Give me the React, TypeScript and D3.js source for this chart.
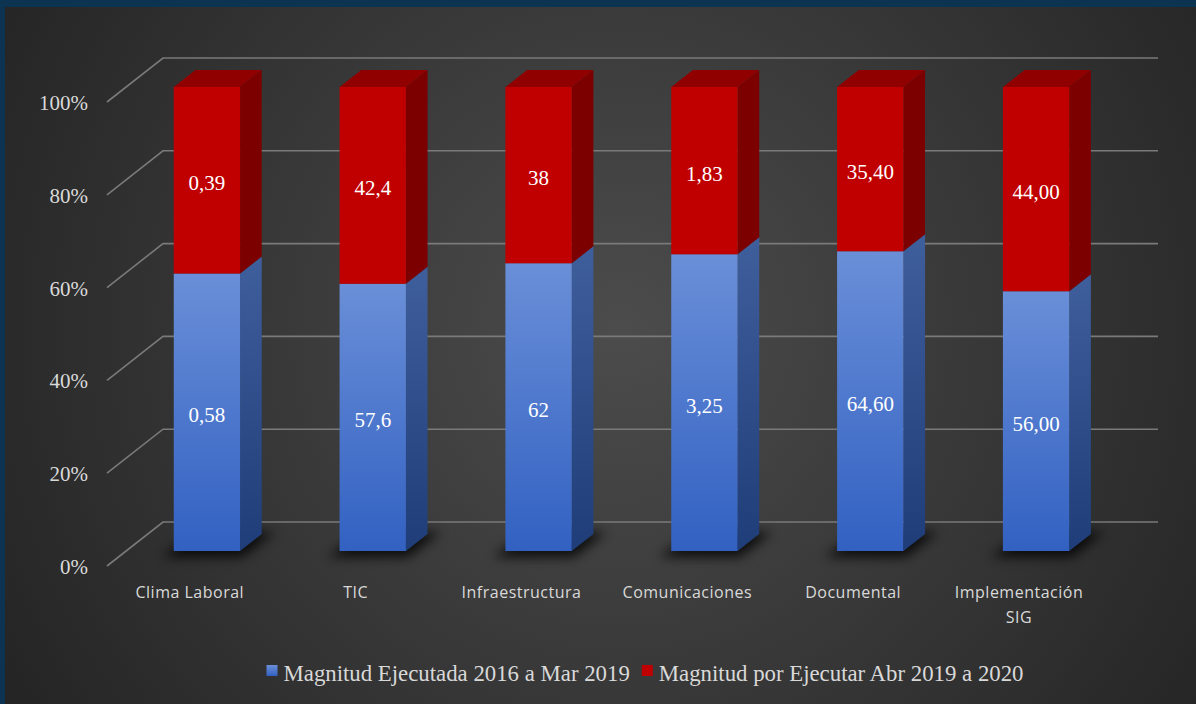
import React, { useRef, useEffect } from "react";
import * as d3 from "d3";

const categories = [
  "Clima Laboral",
  "TIC",
  "Infraestructura",
  "Comunicaciones",
  "Documental",
  "Implementación SIG",
];
const ejecutada = [0.58, 57.6, 62, 3.25, 64.6, 56];
const porEjecutar = [0.39, 42.4, 38, 1.83, 35.4, 44];
const ejecutadaLabels = ["0,58", "57,6", "62", "3,25", "64,60", "56,00"];
const porEjecutarLabels = ["0,39", "42,4", "38", "1,83", "35,40", "44,00"];
const yTicks = [0, 20, 40, 60, 80, 100];
const seriesNames = [
  "Magnitud Ejecutada 2016 a Mar 2019",
  "Magnitud por Ejecutar Abr 2019 a 2020",
];

const App = () => {
  const svgRef = useRef<SVGSVGElement>(null);

  useEffect(() => {
    const w = 1196;
    const h = 704;
    const svg = d3.select(svgRef.current).attr("width", w).attr("height", h);
    svg.selectAll("*").remove();

    const serif = "'Liberation Serif', 'Times New Roman', serif";
    const sans = "'Open Sans', 'Noto Sans', sans-serif";

    // oblique depth: one unit of depth moves right by k and up by 1
    const k = 56 / 44;
    const wallDepth = 44;
    const barZ0 = 15;
    const barZ1 = 32;
    const proj = (x: number, y: number, z: number): [number, number] => [x + z * k, y - z];

    const yScale = d3.scaleLinear().domain([0, 100]).range([566, 102]);
    const xScale = d3
      .scaleBand<string>()
      .domain(categories)
      .range([124 - barZ0 * k, 1119 - barZ0 * k])
      .paddingInner(0.6)
      .paddingOuter(0.3);

    const defs = svg.append("defs");
    const bg = defs
      .append("radialGradient")
      .attr("id", "bg")
      .attr("gradientUnits", "userSpaceOnUse")
      .attr("cx", 620)
      .attr("cy", 330)
      .attr("r", 720);
    bg.append("stop").attr("offset", "0%").attr("stop-color", "#4c4c4c");
    bg.append("stop").attr("offset", "100%").attr("stop-color", "#242424");

    const grad = (id: string, c0: string, c1: string) => {
      const g = defs
        .append("linearGradient")
        .attr("id", id)
        .attr("x1", 0)
        .attr("y1", 0)
        .attr("x2", 0)
        .attr("y2", 1);
      g.append("stop").attr("offset", "0%").attr("stop-color", c0);
      g.append("stop").attr("offset", "100%").attr("stop-color", c1);
    };
    grad("blueFront", "#6a8fd8", "#3261c2");
    grad("blueSide", "#3f5e9c", "#1f3d78");
    grad("blueKey", "#6a8fd8", "#3261c2");

    defs
      .append("filter")
      .attr("id", "shadow")
      .attr("x", "-50%")
      .attr("y", "-50%")
      .attr("width", "200%")
      .attr("height", "200%")
      .append("feGaussianBlur")
      .attr("stdDeviation", 6);

    // frame and background
    svg.append("rect").attr("width", w).attr("height", h).attr("fill", "#0c3450");
    svg.append("rect").attr("x", 5).attr("y", 7).attr("width", w - 5).attr("height", h - 7).attr("fill", "url(#bg)");

    // gridlines (left side wall edge + back wall)
    const grid = svg.append("g");
    yTicks.forEach((t) => {
      const y = yScale(t);
      const [bx, by] = proj(107, y, wallDepth);
      grid
        .append("path")
        .attr("d", `M107,${y}L${bx},${by}L1158,${by}`)
        .attr("fill", "none")
        .attr("stroke", "#7a7a7a")
        .attr("stroke-width", 1.6);
      svg
        .append("text")
        .attr("x", 88)
        .attr("y", y + 8)
        .attr("text-anchor", "end")
        .attr("font-family", serif)
        .attr("font-size", 21)
        .attr("fill", "#d9d9d9")
        .text(`${t}%`);
    });

    const bw = xScale.bandwidth();
    const poly = (pts: [number, number][]) => "M" + pts.map((p) => p.join(",")).join("L") + "Z";

    categories.forEach((c, i) => {
      const total = ejecutada[i] + porEjecutar[i];
      const pct0 = (ejecutada[i] / total) * 100;
      const x0 = xScale(c) as number;
      const x1 = x0 + bw;
      const g = svg.append("g");

      // floor shadow
      const y0 = yScale(0);
      g.append("path")
        .attr(
          "d",
          poly([
            proj(x0 - 8, y0 + 3, barZ0 - 3),
            proj(x1 + 6, y0 + 3, barZ0 - 3),
            proj(x1 + 8, y0 + 2, barZ1 + 4),
            proj(x0 - 4, y0 + 2, barZ1 + 4),
          ])
        )
        .attr("fill", "#000")
        .attr("opacity", 0.8)
        .attr("filter", "url(#shadow)");

      const segs = [
        { a: 0, b: pct0, front: "url(#blueFront)", side: "url(#blueSide)", top: "#4a6fb8", label: ejecutadaLabels[i] },
        { a: pct0, b: 100, front: "#c00000", side: "#7c0000", top: "#900000", label: porEjecutarLabels[i] },
      ];
      segs.forEach((s, j) => {
        const ya = yScale(s.a);
        const yb = yScale(s.b);
        g.append("path")
          .attr("d", poly([proj(x1, ya, barZ0), proj(x1, yb, barZ0), proj(x1, yb, barZ1), proj(x1, ya, barZ1)]))
          .attr("fill", s.side);
        g.append("path")
          .attr("d", poly([proj(x0, ya, barZ0), proj(x1, ya, barZ0), proj(x1, yb, barZ0), proj(x0, yb, barZ0)]))
          .attr("fill", s.front);
        if (j === segs.length - 1) {
          g.append("path")
            .attr("d", poly([proj(x0, yb, barZ0), proj(x1, yb, barZ0), proj(x1, yb, barZ1), proj(x0, yb, barZ1)]))
            .attr("fill", s.top);
        }
        const [lx, ly] = proj((x0 + x1) / 2, (ya + yb) / 2, barZ0);
        g.append("text")
          .attr("x", lx)
          .attr("y", ly + 10)
          .attr("text-anchor", "middle")
          .attr("font-family", serif)
          .attr("font-size", 21)
          .attr("fill", "#fff")
          .text(s.label);
      });
    });

    // category labels, wrapped
    const xAxis = svg.append("g");
    categories.forEach((c) => {
      const cx = (xScale(c) as number) + bw / 2 + 2;
      const t = xAxis
        .append("text")
        .attr("text-anchor", "middle")
        .attr("font-family", sans)
        .attr("font-size", 16)
        .attr("letter-spacing", 0.5)
        .attr("fill", "#d9d9d9");
      const words = c.split(" ");
      const lines: string[] = [];
      let line = "";
      words.forEach((wd) => {
        const test = line ? line + " " + wd : wd;
        const probe = t.append("tspan").text(test);
        const len = (probe.node() as SVGTSpanElement).getComputedTextLength();
        probe.remove();
        if (len > 145 && line) {
          lines.push(line);
          line = wd;
        } else line = test;
      });
      lines.push(line);
      lines.forEach((l, li) => {
        t.append("tspan").attr("x", cx).attr("y", 598 + li * 25).text(l);
      });
    });

    // legend
    const legend = svg.append("g");
    const keyFills = ["url(#blueKey)", "#c00000"];
    let lx = 0;
    seriesNames.forEach((n, i) => {
      const item = legend.append("g").attr("transform", `translate(${lx},0)`);
      item.append("rect").attr("x", 0).attr("y", 665).attr("width", 11).attr("height", 11).attr("fill", keyFills[i]);
      const txt = item
        .append("text")
        .attr("x", 17)
        .attr("y", 681)
        .attr("font-family", serif)
        .attr("font-size", 22.8)
        .attr("fill", "#d9d9d9")
        .text(n);
      lx += 17 + (txt.node() as SVGTextElement).getComputedTextLength() + 12;
    });
    const totalW = lx - 12;
    legend.attr("transform", `translate(${645 - totalW / 2},0)`);
  }, []);

  return (
    <div style={{ position: "fixed", left: 0, top: 0 }}>
      <svg ref={svgRef} style={{ display: "block" }}></svg>
    </div>
  );
};

export default App;
